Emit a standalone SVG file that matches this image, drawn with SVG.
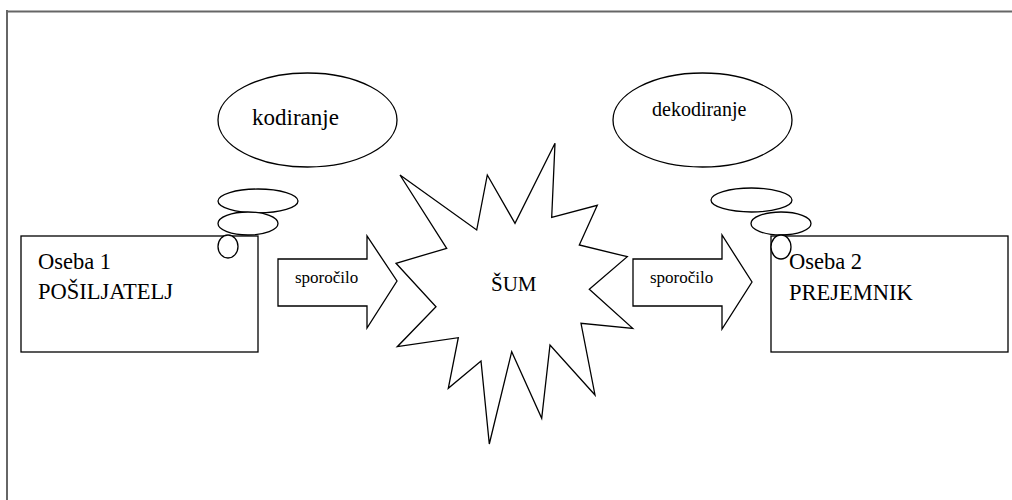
<svg xmlns="http://www.w3.org/2000/svg" width="1012" height="500" viewBox="0 0 1012 500">
<style>
.shape{fill:#fff;stroke:#000;stroke-width:1.3}
.frame{fill:none;stroke:#666;stroke-width:2}
.t{font-family:'Liberation Serif','DejaVu Serif',serif;fill:#000}
.big{font-size:22.5px}
.lbl{font-size:17px}
</style>
<rect width="1012" height="500" fill="#fff"/>
<g id="frame">
<path class="frame" d="M7,10 V500 M6,11.5 H1012"/>
</g>
<g id="posiljatelj">
<rect class="shape" x="21" y="236" width="237" height="116"/>
<text class="t big" x="38" y="269" font-family="Liberation Serif, serif">Oseba 1</text>
<text class="t big" x="38" y="299" font-family="Liberation Serif, serif">POŠILJATELJ</text>
</g>
<g id="kodiranje">
<ellipse class="shape" cx="258" cy="201" rx="40" ry="12"/>
<ellipse class="shape" cx="248" cy="223.5" rx="30" ry="11.5"/>
<ellipse class="shape" cx="228" cy="246.5" rx="10" ry="11.5"/>
<ellipse class="shape" cx="307.5" cy="120" rx="89.5" ry="47"/>
<text class="t" x="252" y="125" font-size="23" font-family="Liberation Serif, serif">kodiranje</text>
</g>
<g id="prejemnik">
<rect class="shape" x="771" y="236" width="237" height="116"/>
<text class="t big" x="789" y="269" font-family="Liberation Serif, serif">Oseba 2</text>
<text class="t big" x="789" y="300" font-family="Liberation Serif, serif">PREJEMNIK</text>
</g>
<g id="dekodiranje">
<ellipse class="shape" cx="751.5" cy="200" rx="40.5" ry="12"/>
<ellipse class="shape" cx="781" cy="223.5" rx="30" ry="11.5"/>
<ellipse class="shape" cx="781" cy="247" rx="10" ry="12"/>
<ellipse class="shape" cx="702.5" cy="120" rx="89.5" ry="47"/>
<text class="t" x="652" y="116" font-size="20" font-family="Liberation Serif, serif">dekodiranje</text>
</g>
<g id="sum">
<polygon class="shape" points="555,143.3 551.7,217.3 597.3,205.3 579.3,245 627.3,256.7 589.3,289.3 632.7,328.3 581,323.3 595,395 550,345 541.7,418.3 511.7,351.7 489.3,444 481,361 448.3,388.3 458.3,337.7 397.3,346.7 436,306.7 396,263.3 446.7,248.3 400,175 476.7,230 487.3,175 515,223.3"/>
<text class="t" x="491" y="291" font-size="21" font-family="Liberation Serif, serif">ŠUM</text>
</g>
<g id="connectors">
<polygon class="shape" points="278,259 367,259 367,236 397,281 367,328 367,306 278,306"/>
<text class="t lbl" x="295" y="283" font-family="Liberation Serif, serif">sporočilo</text>
<polygon class="shape" points="633,259 722,259 722,235 752,282 722,329 722,306 633,306"/>
<text class="t lbl" x="650" y="283" font-family="Liberation Serif, serif">sporočilo</text>
</g>
</svg>
